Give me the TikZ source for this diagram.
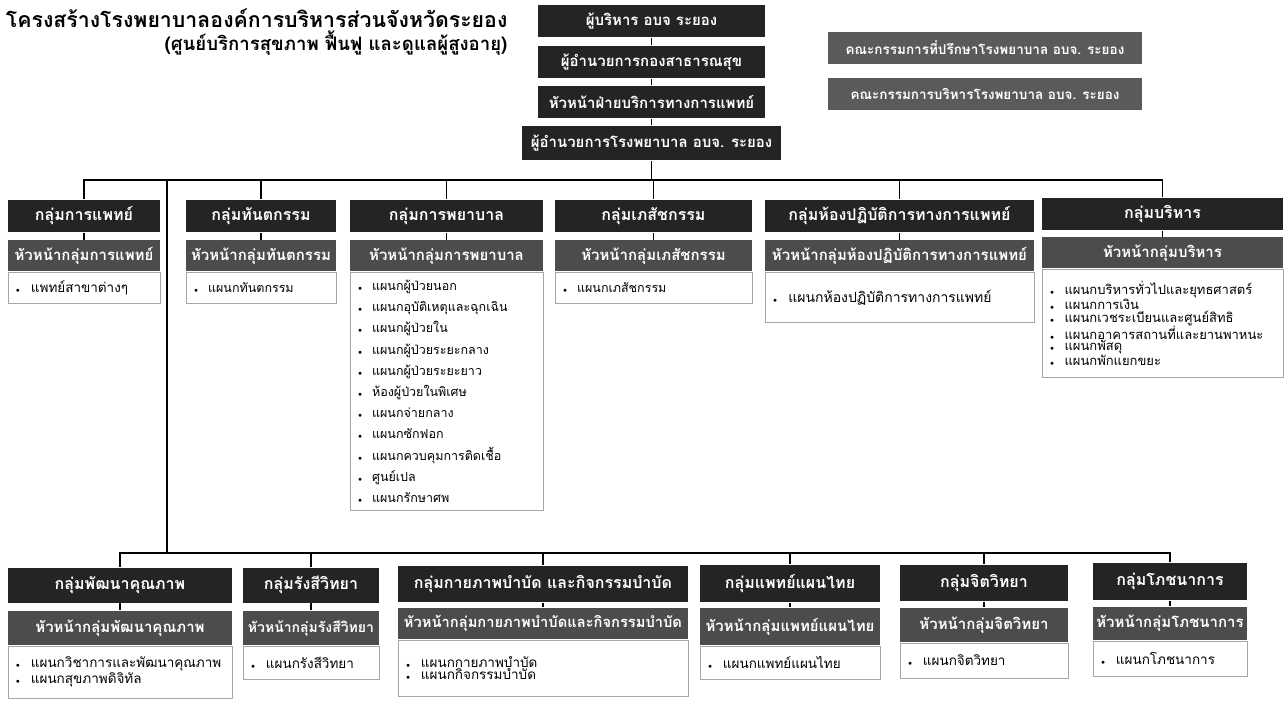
\documentclass[tikz,border=0pt]{standalone}
\usepackage{fontspec}
\setmainfont{Loma}[Script=Thai]
\usetikzlibrary{positioning}
\definecolor{boxdark}{RGB}{36,36,36}
\definecolor{boxgray}{RGB}{76,76,76}
\definecolor{boardgray}{RGB}{90,90,90}
\newcommand{\itm}{{\scriptsize$\bullet$}\hspace{0.8em}}
\tikzset{
  topbox/.style={fill=boxdark, text=white, font=\bfseries\fontsize{15}{17}\selectfont,
    minimum width=227pt, minimum height=32pt, inner sep=0pt},
  board/.style={fill=boardgray, text=white, font=\bfseries\fontsize{13.5}{15}\selectfont,
    minimum width=314pt, minimum height=32pt, inner sep=0pt},
  grphead/.style={fill=boxdark, text=white, font=\bfseries\fontsize{16}{17}\selectfont,
    minimum height=32pt, inner sep=0pt},
  grpchief/.style={fill=boxgray, text=white, font=\bfseries\fontsize{15}{17}\selectfont,
    minimum height=31pt, inner sep=0pt},
  listbox/.style={draw=gray!70, line width=0.6pt, fill=white, align=left,
    font=\fontsize{12.5}{14}\selectfont, inner xsep=8pt, inner ysep=4pt},
}
\begin{document}
\begin{tikzpicture}[x=1pt, y=-1pt, line width=1.2pt]
  \useasboundingbox (0,0) rectangle (1288,708);
  % title
  \node[anchor=north east, align=right, font=\bfseries\fontsize{21.3}{23}\selectfont, inner sep=0pt]
    (title) at (508,8) {โครงสร้างโรงพยาบาลองค์การบริหารส่วนจังหวัดระยอง\\
    {\fontsize{18.6}{23}\selectfont (ศูนย์บริการสุขภาพ ฟื้นฟู และดูแลผู้สูงอายุ)}};

  % top chain
  \node[topbox] (exec) at (651.5,21) {ผู้บริหาร อบจ ระยอง};
  \node[topbox] (phdir) at (651.5,62) {ผู้อำนวยการกองสาธารณสุข};
  \node[topbox] (medhead) at (651.5,102) {หัวหน้าฝ่ายบริการทางการแพทย์};
  \node[topbox, minimum width=259pt, minimum height=34pt] (hospdir) at (651.5,143)
    {ผู้อำนวยการโรงพยาบาล อบจ. ระยอง};
  \draw (exec) -- (phdir) -- (medhead) -- (hospdir);

  % boards
  \node[board] (advboard) at (985,48) {คณะกรรมการที่ปรึกษาโรงพยาบาล อบจ. ระยอง};
  \node[board] (mgtboard) at (985,94) {คณะกรรมการบริหารโรงพยาบาล อบจ. ระยอง};

  % upper row of groups
  \node[grphead, minimum width=152pt] (med) at (84,216) {กลุ่มการแพทย์};
  \node[grpchief, minimum width=152pt] (med-chief) at (84,256) {หัวหน้ากลุ่มการแพทย์};
  \node[listbox, text width=136pt, minimum height=31pt, below=0pt of med-chief,
    font=\fontsize{13.5}{14}\selectfont] (med-list)
    {\itm แพทย์สาขาต่างๆ};

  \node[grphead, minimum width=150pt] (dent) at (261,216) {กลุ่มทันตกรรม};
  \node[grpchief, minimum width=150pt] (dent-chief) at (261,256) {หัวหน้ากลุ่มทันตกรรม};
  \node[listbox, text width=134pt, minimum height=31pt, below=0pt of dent-chief] (dent-list)
    {\itm แผนกทันตกรรม};

  \node[grphead, minimum width=193pt] (nurse) at (446.5,216) {กลุ่มการพยาบาล};
  \node[grpchief, minimum width=193pt] (nurse-chief) at (446.5,256) {หัวหน้ากลุ่มการพยาบาล};
  \node[listbox, text width=177pt, minimum height=238pt, below=0pt of nurse-chief,
    font=\fontsize{12.5}{21.2}\selectfont] (nurse-list)
    {\itm แผนกผู้ป่วยนอก\\ \itm แผนกอุบัติเหตุและฉุกเฉิน\\ \itm แผนกผู้ป่วยใน\\
     \itm แผนกผู้ป่วยระยะกลาง\\ \itm แผนกผู้ป่วยระยะยาว\\ \itm ห้องผู้ป่วยในพิเศษ\\
     \itm แผนกจ่ายกลาง\\ \itm แผนกซักฟอก\\ \itm แผนกควบคุมการติดเชื้อ\\
     \itm ศูนย์เปล\\ \itm แผนกรักษาศพ\\[-18pt]};

  \node[grphead, minimum width=197pt] (pharm) at (653.5,216) {กลุ่มเภสัชกรรม};
  \node[grpchief, minimum width=197pt] (pharm-chief) at (653.5,256) {หัวหน้ากลุ่มเภสัชกรรม};
  \node[listbox, text width=181pt, minimum height=31pt, below=0pt of pharm-chief] (pharm-list)
    {\itm แผนกเภสัชกรรม};

  \node[grphead, minimum width=269pt] (lab) at (899.5,216) {กลุ่มห้องปฏิบัติการทางการแพทย์};
  \node[grpchief, minimum width=269pt] (lab-chief) at (899.5,256)
    {หัวหน้ากลุ่มห้องปฏิบัติการทางการแพทย์};
  \node[listbox, text width=253pt, minimum height=50pt, below=0pt of lab-chief,
    font=\fontsize{14}{15}\selectfont] (lab-list)
    {\itm แผนกห้องปฏิบัติการทางการแพทย์};

  \node[grphead, minimum width=241pt] (admin) at (1162.5,214) {กลุ่มบริหาร};
  \node[grpchief, minimum width=241pt] (admin-chief) at (1162.5,253) {หัวหน้ากลุ่มบริหาร};
  \node[listbox, text width=225pt, minimum height=108pt, below=0pt of admin-chief,
    font=\fontsize{13}{10.6}\selectfont] (admin-list)
    {\itm แผนกบริหารทั่วไปและยุทธศาสตร์\\ \itm แผนกการเงิน\\
     \itm แผนกเวชระเบียนและศูนย์สิทธิ\\ \itm แผนกอาคารสถานที่และยานพาหนะ\\
     \itm แผนกพัสดุ\\ \itm แผนกพักแยกขยะ\\[56pt]};

  % lower row of groups
  \node[grphead, minimum width=224pt, minimum height=35pt] (qual) at (120,585) {กลุ่มพัฒนาคุณภาพ};
  \node[grpchief, minimum width=224pt, minimum height=34pt] (qual-chief) at (120,628)
    {หัวหน้ากลุ่มพัฒนาคุณภาพ};
  \node[listbox, text width=208pt, minimum height=52pt, below=0pt of qual-chief,
    font=\fontsize{13.5}{12}\selectfont] (qual-list)
    {\itm แผนกวิชาการและพัฒนาคุณภาพ\\ \itm แผนกสุขภาพดิจิทัล};

  \node[grphead, minimum width=136pt, minimum height=35pt] (radio) at (311,585) {กลุ่มรังสีวิทยา};
  \node[grpchief, minimum width=136pt, minimum height=34pt,
    font=\bfseries\fontsize{14}{17}\selectfont] (radio-chief) at (311,628)
    {หัวหน้ากลุ่มรังสีวิทยา};
  \node[listbox, text width=120pt, minimum height=33pt, below=0pt of radio-chief,
    font=\fontsize{13.5}{14}\selectfont] (radio-list)
    {\itm แผนกรังสีวิทยา};

  \node[grphead, minimum width=290pt, minimum height=36pt] (physio) at (543,584)
    {กลุ่มกายภาพบำบัด และกิจกรรมบำบัด};
  \node[grpchief, minimum width=290pt, minimum height=31pt,
    font=\bfseries\fontsize{14.7}{17}\selectfont] (physio-chief) at (543,623.5)
    {หัวหน้ากลุ่มกายภาพบำบัดและกิจกรรมบำบัด};
  \node[listbox, text width=274pt, minimum height=56pt, below=0pt of physio-chief,
    font=\fontsize{13.5}{12}\selectfont] (physio-list)
    {\itm แผนกกายภาพบำบัด\\ \itm แผนกกิจกรรมบำบัด};

  \node[grphead, minimum width=180pt, minimum height=37pt] (thaimed) at (790,583.5)
    {กลุ่มแพทย์แผนไทย};
  \node[grpchief, minimum width=180pt, minimum height=37pt] (thaimed-chief) at (790,626.5)
    {หัวหน้ากลุ่มแพทย์แผนไทย};
  \node[listbox, text width=164pt, minimum height=33pt, below=0pt of thaimed-chief,
    font=\fontsize{13.5}{14}\selectfont] (thaimed-list)
    {\itm แผนกแพทย์แผนไทย};

  \node[grphead, minimum width=168pt, minimum height=36pt] (psych) at (984,583)
    {กลุ่มจิตวิทยา};
  \node[grpchief, minimum width=168pt, minimum height=34pt] (psych-chief) at (984,625)
    {หัวหน้ากลุ่มจิตวิทยา};
  \node[listbox, text width=152pt, minimum height=35pt, below=0pt of psych-chief,
    font=\fontsize{13.5}{14}\selectfont] (psych-list)
    {\itm แผนกจิตวิทยา};

  \node[grphead, minimum width=154pt, minimum height=37pt] (nutr) at (1170,581.5)
    {กลุ่มโภชนาการ};
  \node[grpchief, minimum width=154pt, minimum height=33pt] (nutr-chief) at (1170,623.5)
    {หัวหน้ากลุ่มโภชนาการ};
  \node[listbox, text width=138pt, minimum height=35pt, below=0pt of nutr-chief,
    font=\fontsize{13.5}{14}\selectfont] (nutr-list)
    {\itm แผนกโภชนาการ};

  % connectors
  \coordinate (topbus) at (651.5,180);
  \coordinate (lowbus) at (167,553);
  \draw (hospdir) -- (topbus);
  \foreach \g in {med,dent,nurse,pharm,lab,admin}
    \draw (topbus) -| (\g);
  \draw (topbus -| lowbus) -- (lowbus);
  \foreach \g in {qual,radio,physio,thaimed,psych,nutr}
    \draw (lowbus) -| (\g);
  \foreach \g in {med,dent,nurse,pharm,lab,admin,qual,radio,physio,thaimed,psych,nutr}
    \draw (\g) -- (\g-chief);
\end{tikzpicture}
\end{document}
